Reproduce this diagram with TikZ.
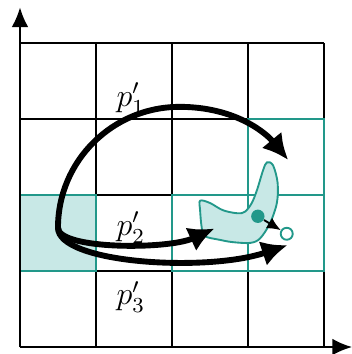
\documentclass[tikz,border=0pt]{standalone}
\usepackage{tikz}
\usetikzlibrary{arrows.meta, positioning, calc}
\usepackage{amsmath, amssymb}
\usepackage{xcolor}

\definecolor{cellteal}{RGB}{34,152,138}
\definecolor{cellfill}{RGB}{200,232,230}

\begin{document}
\begin{tikzpicture}[
  gridline/.style={draw=black, line width=0.8pt},
  tealline/.style={draw=cellteal, line width=0.8pt},
  axis/.style={-{Latex[length=2.6mm, width=2.2mm]}, line width=0.8pt},
  patharrow/.style={-{Latex[length=3.4mm, width=3.4mm]}, line width=2.2pt, line cap=round},
  plabel/.style={font=\large, inner sep=1pt},
  blob/.style={draw=cellteal, fill=cellfill, line width=0.7pt}
]
\useasboundingbox (-0.263,-0.092) rectangle (4.368,4.566);

% 网格
\draw [gridline] (0,0) grid (4,4);

% 起始格与目标格
\fill [cellfill] (0,1) rectangle (1,2);
\draw [tealline] (0,1) rectangle (1,2);
\draw [tealline] (2,1) rectangle (4,2);
\draw [tealline] (3,1) -- (3,3) -- (4,3) -- (4,1);

% 坐标轴
\coordinate (origin) at (0,0);
\coordinate (xend) at (4.37,0);
\coordinate (yend) at (0,4.47);
\draw [axis] (origin) -- (xend);
\draw [axis] (origin) -- (yend);

% 障碍区域
\draw [blob] plot [smooth cycle, tension=0.55] coordinates {
  (2.37,1.925) (2.50,1.895) (2.67,1.80) (2.86,1.76) (2.96,1.78) (3.05,1.895)
  (3.12,2.07) (3.20,2.33) (3.25,2.43) (3.33,2.39) (3.39,2.16) (3.38,1.895)
  (3.29,1.63) (3.16,1.43) (3.03,1.37) (2.80,1.38) (2.63,1.41) (2.43,1.46)
  (2.39,1.58) (2.37,1.80)};

% 起点与终点
\coordinate (start) at (0.5,1.57);
\coordinate (top1) at (2.1,3.16);
\coordinate (end1) at (3.53,2.46);
\coordinate (end2) at (2.56,1.56);
\coordinate (end3) at (3.52,1.34);

% 路径箭头
\draw [patharrow] (start) .. controls (0.5,2.45) and (1.22,3.16) .. (top1)
  .. controls (2.85,3.16) and (3.25,2.8) .. (end1);
\draw [patharrow] (start) .. controls (0.5,1.28) and (1.95,1.28) .. (end2);
\draw [patharrow] (start) .. controls (0.5,1.1) and (2.45,0.98) .. (end3);

% 速度
\node (dot) [circle, fill=cellteal, inner sep=0pt, minimum size=5pt] at (3.13,1.72) {};
\node (goal) [circle, draw=cellteal, fill=white, line width=0.7pt, inner sep=0pt, minimum size=4.5pt] at (3.51,1.49) {};
\draw [-{Latex[length=1.8mm, width=1.6mm]}, line width=0.7pt] (dot) -- (goal);

% 标签
\node (lp1) [plabel] at (1.46,3.27) {$p_1'$};
\node (lp2) [plabel] at (1.46,1.57) {$p_2'$};
\node (lp3) [plabel] at (1.46,0.66) {$p_3'$};

\end{tikzpicture}
\end{document}
